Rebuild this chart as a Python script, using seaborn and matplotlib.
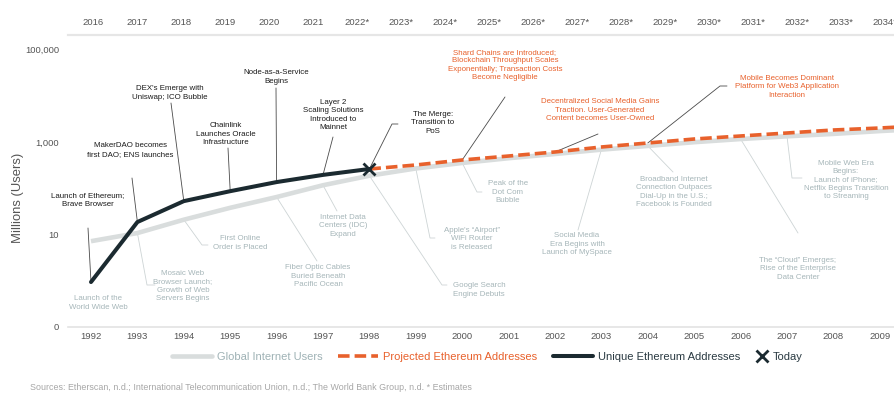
import numpy as np
import pandas as pd
import matplotlib
matplotlib.use("Agg")
import matplotlib.pyplot as plt
import seaborn as sns
from matplotlib.lines import Line2D
from matplotlib.ticker import FixedLocator, FixedFormatter, NullLocator

# ---------------- data ----------------
internet_years = [1992, 1993, 1994, 1995, 1996, 1997, 1998, 1999, 2000, 2001,
                  2002, 2003, 2004, 2005, 2006, 2007, 2008, 2009, 2010]
internet_users = [7.2, 10.8, 21, 38, 65, 117, 188, 270, 355, 450,
                  555, 690, 830, 1000, 1170, 1340, 1510, 1740, 1960]

eth_years = [1992, 1993, 1994, 1995, 1996, 1997, 1998]
eth_addresses = [0.94, 18.7, 53, 87, 137, 196, 263]

proj_years = [1998, 1999, 2000, 2001, 2002, 2003, 2004, 2005, 2006, 2007, 2008, 2009, 2010]
proj_addresses = [263, 321, 412, 502, 614, 787, 961, 1172, 1362, 1581, 1836, 2028, 2290]

bottom_ticks = list(range(1992, 2010))
top_ticks = list(range(2016, 2035))
top_labels = ["2016", "2017", "2018", "2019", "2020", "2021", "2022*", "2023*", "2024*",
              "2025*", "2026*", "2027*", "2028*", "2029*", "2030*", "2031*", "2032*",
              "2033*", "2034*"]
y_ticks = [0.1, 10, 1000, 100000]
y_labels = ["0", "10", "1,000", "100,000"]

eth_events = ["Launch of Ethereum;\nBrave Browser",
              "MakerDAO becomes\nfirst DAO; ENS launches",
              "DEX's Emerge with\nUniswap; ICO Bubble",
              "Chainlink\nLaunches Oracle\nInfrastructure",
              "Node-as-a-Service\nBegins",
              "Layer 2\nScaling Solutions\nIntroduced to\nMainnet",
              "The Merge:\nTransition to\nPoS"]
eth_event_years = [1992, 1993, 1994, 1995, 1996, 1997, 1998]

proj_events = ["Shard Chains are Introduced;\nBlockchain Throughput Scales\nExponentially; Transaction Costs\nBecome Negligible",
               "Decentralized Social Media Gains\nTraction. User-Generated\nContent becomes User-Owned",
               "Mobile Becomes Dominant\nPlatform for Web3 Application\nInteraction"]
proj_event_years = [2000, 2002, 2004]

inet_events = ["Launch of the\nWorld Wide Web",
               "Mosaic Web\nBrowser Launch;\nGrowth of Web\nServers Begins",
               "First Online\nOrder is Placed",
               "Fiber Optic Cables\nBuried Beneath\nPacific Ocean",
               "Internet Data\nCenters (IDC)\nExpand",
               "Apple's \u201cAirport\u201d\nWiFi Router\nis Released",
               "Google Search\nEngine Debuts",
               "Peak of the\nDot Com\nBubble",
               "Social Media\nEra Begins with\nLaunch of MySpace",
               "Broadband Internet\nConnection Outpaces\nDial-Up in the U.S.;\nFacebook is Founded",
               "The \u201cCloud\u201d Emerges;\nRise of the Enterprise\nData Center",
               "Mobile Web Era\nBegins:\nLaunch of iPhone;\nNetflix Begins Transition\nto Streaming"]
inet_event_years = [1992, 1993, 1994, 1996, 1997, 1999, 1998, 2000, 2003, 2004, 2006, 2007]

legend_labels = ["Global Internet Users", "Projected Ethereum Addresses",
                 "Unique Ethereum Addresses", "Today"]
source_text = ("Sources: Etherscan, n.d.; International Telecommunication Union, n.d.; "
               "The World Bank Group, n.d. * Estimates")

# ---------------- layout (reference pixel positions) ----------------
W, H = 895, 397
eth_layout = [((88, 200), [(88, 228)]),
              ((130, 150), [(132, 178)]),
              ((170, 93), [(171, 103)]),
              ((226, 134), [(228, 148)]),
              ((276, 77), [(276, 88)]),
              ((333, 115), [(333, 137)]),
              ((433, 123), [(392, 124), (398, 124)])]
proj_layout = [((505, 65), [(505, 97)]),
               ((600, 110), [(598, 134)]),
               ((787, 87), [(720, 86), (727, 86)])]
inet_layout = [((98, 303), []),
               ((183, 286), [(147, 285), (155, 285)]),
               ((240, 243), [(202, 245), (208, 245)]),
               ((318, 276), [(317, 261)]),
               ((343, 226), [(337, 211)]),
               ((472, 239), [(430, 238), (435, 238)]),
               ((479, 290), [(442, 285), (447, 285)]),
               ((508, 192), [(477, 192), (482, 192)]),
               ((577, 244), [(578, 230)]),
               ((674, 192), [(673, 172)]),
               ((798, 269), [(798, 233)]),
               ((846, 180), [(792, 178), (802, 178)])]

C_GRAY = "#d9dddd"
C_ORANGE = "#e8612c"
C_DARK = "#1b2a30"
C_GTEXT = "#a6b6b9"
C_LEAD_DARK = "#4a4a4a"
C_LEAD_GRAY = "#cdd4d5"

sns.set_theme(style="white")
plt.rcParams["font.family"] = ["Liberation Sans", "DejaVu Sans"]

fig = plt.figure(figsize=(W / 100, H / 100), dpi=100)
ax = fig.add_axes([68 / W, 1 - 327 / H, (895 - 68) / W, (327 - 35) / H])

df_inet = pd.DataFrame({"year": internet_years, "users": internet_users})
df_eth = pd.DataFrame({"year": eth_years, "users": eth_addresses})
df_proj = pd.DataFrame({"year": proj_years, "users": proj_addresses})

sns.lineplot(data=df_inet, x="year", y="users", ax=ax, color=C_GRAY, lw=3.3,
             solid_capstyle="butt", zorder=3)
sns.lineplot(data=df_proj, x="year", y="users", ax=ax, color=C_ORANGE, lw=2.6, zorder=4)
sns.lineplot(data=df_eth, x="year", y="users", ax=ax, color=C_DARK, lw=2.9,
             solid_capstyle="round", zorder=5)
l_inet, l_proj, l_eth = ax.get_lines()[:3]
l_proj.set_dashes((3.2, 1.4))
l_proj.set_dash_capstyle("butt")
ax.plot([eth_years[-1]], [eth_addresses[-1]], marker="x", ms=8, mew=2.0,
        color=C_DARK, ls="", zorder=6)

ax.set_yscale("log")
ax.set_xlim(1992 - 23 / 46.4, 1992 + 804 / 46.4)
ax.set_ylim(0.1, 10 ** 5.32)
ax.yaxis.set_major_locator(FixedLocator(y_ticks))
ax.yaxis.set_major_formatter(FixedFormatter(y_labels))
ax.yaxis.set_minor_locator(NullLocator())
ax.set_xticks(bottom_ticks)
ax.set_xticklabels([str(y) for y in bottom_ticks])
ax.tick_params(axis="x", length=0, pad=3.5, labelsize=6.8, labelcolor="#555555")
ax.tick_params(axis="y", length=0, pad=6.5, labelsize=6.8, labelcolor="#555555")
ax.set_xlabel("")
ax.set_ylabel("")
for s in ["left", "right", "top"]:
    ax.spines[s].set_visible(False)
ax.spines["bottom"].set_color("#e3e3e3")
ax.spines["bottom"].set_linewidth(1.2)
ax.grid(False)

ax2 = ax.twiny()
ax2.set_xlim(2016 - 25 / 44, 2016 + 802 / 44)
ax2.set_xticks(top_ticks)
ax2.set_xticklabels(top_labels)
ax2.tick_params(axis="x", length=0, pad=5.5, labelsize=6.8, labelcolor="#555555")
for s in ["left", "right", "bottom"]:
    ax2.spines[s].set_visible(False)
ax2.spines["top"].set_color("#e6e6e6")
ax2.spines["top"].set_linewidth(1.6)
ax2.grid(False)
ax2.patch.set_visible(False)

fig.text(18 / W, 1 - 198 / H, "Millions (Users)", rotation=90, ha="center", va="center",
         fontsize=9.4, color="#555555")


def fpx(x, y):
    return (x / W, 1 - y / H)


def anchor(years, values, yr):
    v = 10 ** np.interp(yr, years, np.log10(values))
    disp = ax.transData.transform((yr, v))
    return tuple(fig.transFigure.inverted().transform(disp))


def draw_events(texts, yrs, layout, series_x, series_y, tcolor, lcolor):
    for txt, yr, (tc, via) in zip(texts, yrs, layout):
        if via:
            pts = [anchor(series_x, series_y, yr)] + [fpx(*p) for p in via]
            xs, ys = zip(*pts)
            ax.add_line(Line2D(xs, ys, transform=fig.transFigure, clip_on=False,
                               color=lcolor, lw=0.6, zorder=1))
        fig.text(*fpx(*tc), txt, ha="center", va="center", fontsize=5.7,
                 color=tcolor, linespacing=1.27, multialignment="center")


draw_events(inet_events, inet_event_years, inet_layout, internet_years, internet_users,
            C_GTEXT, C_LEAD_GRAY)
draw_events(eth_events, eth_event_years, eth_layout, eth_years, eth_addresses,
            "#1a1a1a", C_LEAD_DARK)
draw_events(proj_events, proj_event_years, proj_layout, proj_years, proj_addresses,
            C_ORANGE, C_LEAD_DARK)

# legend
h_gray = Line2D([], [], color=C_GRAY, lw=3.3)
h_orange = Line2D([], [], color=C_ORANGE, lw=2.6, dashes=(3.2, 1.4), dash_capstyle="butt")
h_dark = Line2D([], [], color=C_DARK, lw=2.9)
leg1 = fig.legend([h_gray, h_orange, h_dark], legend_labels[:3], loc="center left",
                  bbox_to_anchor=fpx(172, 357), ncol=3, frameon=False, fontsize=8,
                  handlelength=3.6, handletextpad=0.45, columnspacing=1.4,
                  borderpad=0, borderaxespad=0)
for t, c in zip(leg1.get_texts(), ["#9fb2b5", C_ORANGE, "#2a3a42"]):
    t.set_color(c)
h_x = Line2D([], [], color=C_DARK, marker="x", ms=8, mew=2.0, ls="")
leg2 = fig.legend([h_x], legend_labels[3:], loc="center left", bbox_to_anchor=fpx(756, 357),
                  frameon=False, fontsize=8, handlelength=1.0, handletextpad=0.5,
                  borderpad=0, borderaxespad=0)
leg2.get_texts()[0].set_color("#2a3a42")

fig.text(30 / W, 1 - 388 / H, source_text, ha="left", va="center", fontsize=6.4,
         color="#a6a6a6")

fig.savefig("out.png", dpi=100)
